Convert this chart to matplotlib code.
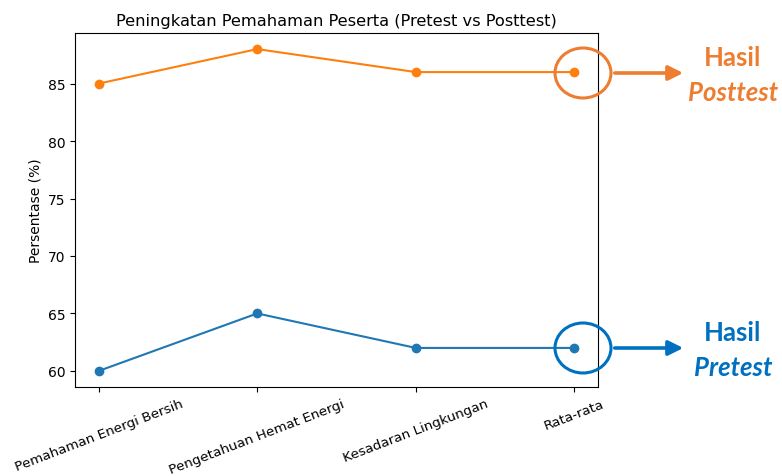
import matplotlib
matplotlib.use('Agg')
import matplotlib.pyplot as plt
from matplotlib.patches import Ellipse, FancyArrowPatch

kategori = ['Pemahaman Energi Bersih', 'Pengetahuan Hemat Energi',
            'Kesadaran Lingkungan', 'Rata-rata']
pretest = [60, 65, 62, 62]
posttest = [85, 88, 86, 86]

W, H = 782, 477
fig = plt.figure(figsize=(W / 100, H / 100), dpi=100)
ax = fig.add_axes([75 / W, 1 - 388 / H, (598 - 75) / W, (388 - 34) / H])

ax.plot(kategori, pretest, marker='o', color='tab:blue', label='Pretest')
ax.plot(kategori, posttest, marker='o', color='tab:orange', label='Posttest')
ax.set_title('Peningkatan Pemahaman Peserta (Pretest vs Posttest)', fontsize=11.7)
ax.set_ylabel('Persentase (%)', fontsize=10)
ax.tick_params(axis='y', labelsize=10)
ax.tick_params(axis='x', labelsize=9.7)
plt.setp(ax.get_xticklabels(), rotation=21, ha='center')


# tanda di sebelah kanan (koordinat piksel gambar)
def px(x, y):
    return (x / W, 1 - y / H)


def tanda(cy, warna, teks1, teks2):
    e = Ellipse(px(583, cy), 56 / W, 50 / H, transform=fig.transFigure,
                fill=False, edgecolor=warna, lw=2.2)
    fig.add_artist(e)
    a = FancyArrowPatch(px(612, cy), px(686, cy), transform=fig.transFigure,
                        arrowstyle='-|>', mutation_scale=22, color=warna, lw=2.6)
    fig.add_artist(a)
    fig.text(*px(733, cy - 16), teks1, color=warna, fontsize=18.5, fontweight='bold',
             family='Lato', ha='center', va='center')
    fig.text(*px(733, cy + 19), teks2, color=warna, fontsize=18.5, fontweight='bold',
             style='italic', family='Lato', ha='center', va='center')


tanda(74, '#ED7D31', 'Hasil', 'Posttest')
tanda(349, '#0070C0', 'Hasil', 'Pretest')

fig.savefig('out.png', dpi=100)
